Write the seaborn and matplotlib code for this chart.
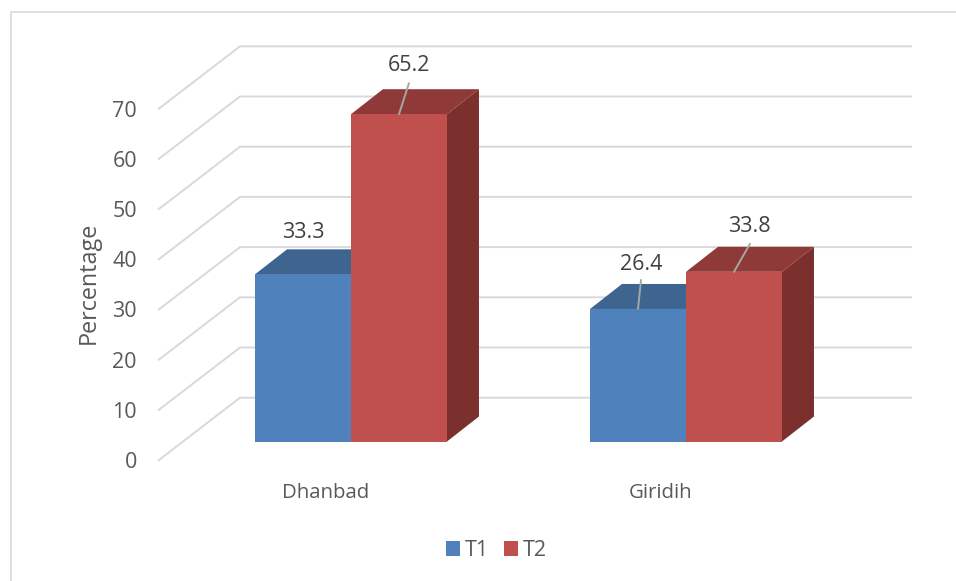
import matplotlib
matplotlib.use("Agg")
import matplotlib.pyplot as plt
import matplotlib.transforms as mtrans
from matplotlib.lines import Line2D
from matplotlib.patches import Polygon
import pandas as pd
import seaborn as sns

# values
districts = ["Dhanbad", "Giridih"]
t1_values = [33.3, 26.4]
t2_values = [65.2, 33.8]
y_ticks = [0, 10, 20, 30, 40, 50, 60, 70]

W, H = 956, 581
PX_X = 335.0    # pixels per category
PX_Y = 5.02     # pixels per percentage point
TEXT = "#595959"
GRID = "#d9d9d9"
FONT = 14.7
FONT_NUM = 15.5

sns.set_theme(style="white")
plt.rcParams["font.family"] = ["Open Sans", "DejaVu Sans"]

df = pd.DataFrame({
    "District": districts * 2,
    "Term": ["T1"] * 2 + ["T2"] * 2,
    "Percentage": t1_values + t2_values,
})

fig = plt.figure(figsize=(W / 100, H / 100), dpi=100)

# axes box is the front edge of the floor up to the back wall top
left, right, bottom, top = 158, 912, 460.7, 47
ax = fig.add_axes([left / W, 1 - bottom / H, (right - left) / W, (bottom - top) / H])
ax.patch.set_alpha(0)

sns.barplot(data=df, x="District", y="Percentage", hue="Term", order=districts,
            palette=["#4f81bd", "#c0504d"], saturation=1, width=0.573, gap=0,
            linewidth=0, zorder=3, ax=ax)

ax.set_xlim((left - 351) / PX_X, (right - 351) / PX_X)
ax.set_ylim(-(bottom - 441.5) / PX_Y, (441.5 - top) / PX_Y)
sns.despine(ax=ax, left=True, bottom=True, top=True, right=True)

# gridlines run along the side wall then across the back wall
x0, x1 = ax.get_xlim()
y0 = ax.get_ylim()[0]
wall_dx = 82 / PX_X
wall_dy = 63 / PX_Y
for v in y_ticks:
    ax.plot([x0, x0 + wall_dx, x1], [y0 + v, y0 + v + wall_dy, y0 + v + wall_dy],
            color=GRID, lw=1.4, zorder=1, clip_on=False, solid_capstyle="butt")

# depth faces built from the bars seaborn drew
bar_dx = 32 / PX_X
bar_dy = 25 / PX_Y
top_cols = {0: "#3d6590", 1: "#8f3a38"}
side_cols = {0: "#2f4f73", 1: "#7b302e"}
for i, cont in enumerate(ax.containers):
    for bar in cont.patches:
        xa, xb = bar.get_x(), bar.get_x() + bar.get_width()
        h = bar.get_height()
        ax.add_patch(Polygon([(xa, h), (xb, h), (xb + bar_dx, h + bar_dy), (xa + bar_dx, h + bar_dy)],
                             closed=True, fc=top_cols[i], ec="none", zorder=2 + i * 0.1, clip_on=False))
        ax.add_patch(Polygon([(xb, 0), (xb + bar_dx, bar_dy), (xb + bar_dx, h + bar_dy), (xb, h)],
                             closed=True, fc=side_cols[i], ec="none", zorder=2 + i * 0.1, clip_on=False))

# data labels, with leader lines where the label was pulled away
label_offsets = [[(0, 41.5), (3, 44)], [(10, 48.5), (15, 45)]]
leader_offsets = [[None, (3, 29)], [(10, 31), (16, 28)]]
for i, cont in enumerate(ax.containers):
    for j, bar in enumerate(cont.patches):
        cx = bar.get_x() + bar.get_width() / 2
        h = bar.get_height()
        ax.annotate(f"{h:.1f}", xy=(cx, h), xytext=label_offsets[i][j], textcoords="offset pixels",
                    ha="center", va="center", fontsize=FONT_NUM, color="#404040", zorder=6)
        if leader_offsets[i][j] is not None:
            ax.annotate("", xy=(cx, h), xytext=leader_offsets[i][j], textcoords="offset pixels", zorder=5,
                        arrowprops=dict(arrowstyle="-", color="#a6a6a6", lw=1.4, shrinkA=0, shrinkB=0))

# axis text sits on the front floor edge, not at the bar baseline
ax.set_yticks(y_ticks)
ax.set_yticklabels([str(v) for v in y_ticks])
ax.tick_params(axis="y", length=0, pad=15.2, labelsize=FONT_NUM, labelcolor=TEXT)
ax.tick_params(axis="x", length=0, pad=15.8, labelsize=FONT, labelcolor=TEXT)
shift_y = mtrans.ScaledTranslation(0, -18.5 / 100, fig.dpi_scale_trans)
shift_x = mtrans.ScaledTranslation(-25 / 100, 0, fig.dpi_scale_trans)
for lab in ax.get_yticklabels():
    lab.set_transform(lab.get_transform() + shift_y)
for lab in ax.get_xticklabels():
    lab.set_transform(lab.get_transform() + shift_x)

ax.set_xlabel("")
ax.set_ylabel("Percentage", fontsize=16.8, color=TEXT, va="center")
ax.yaxis.set_label_coords((89 - left) / (right - left), (bottom - 283) / (bottom - top))

sns.move_legend(ax, "center", bbox_to_anchor=(496.5 / W, 1 - 550.5 / H), bbox_transform=fig.transFigure,
                ncols=2, frameon=False, title=None, fontsize=FONT_NUM, labelcolor=TEXT,
                handlelength=0.65, handleheight=0.65, handletextpad=0.23, columnspacing=0.7,
                borderpad=0, borderaxespad=0)

# chart frame, only left and top are in the crop
fig.add_artist(Line2D([11 / W, 11 / W], [0, 1 - 12 / H], color=GRID, lw=1.2))
fig.add_artist(Line2D([11 / W, 1], [1 - 12 / H, 1 - 12 / H], color=GRID, lw=1.2))

fig.savefig("out.png", dpi=100)
